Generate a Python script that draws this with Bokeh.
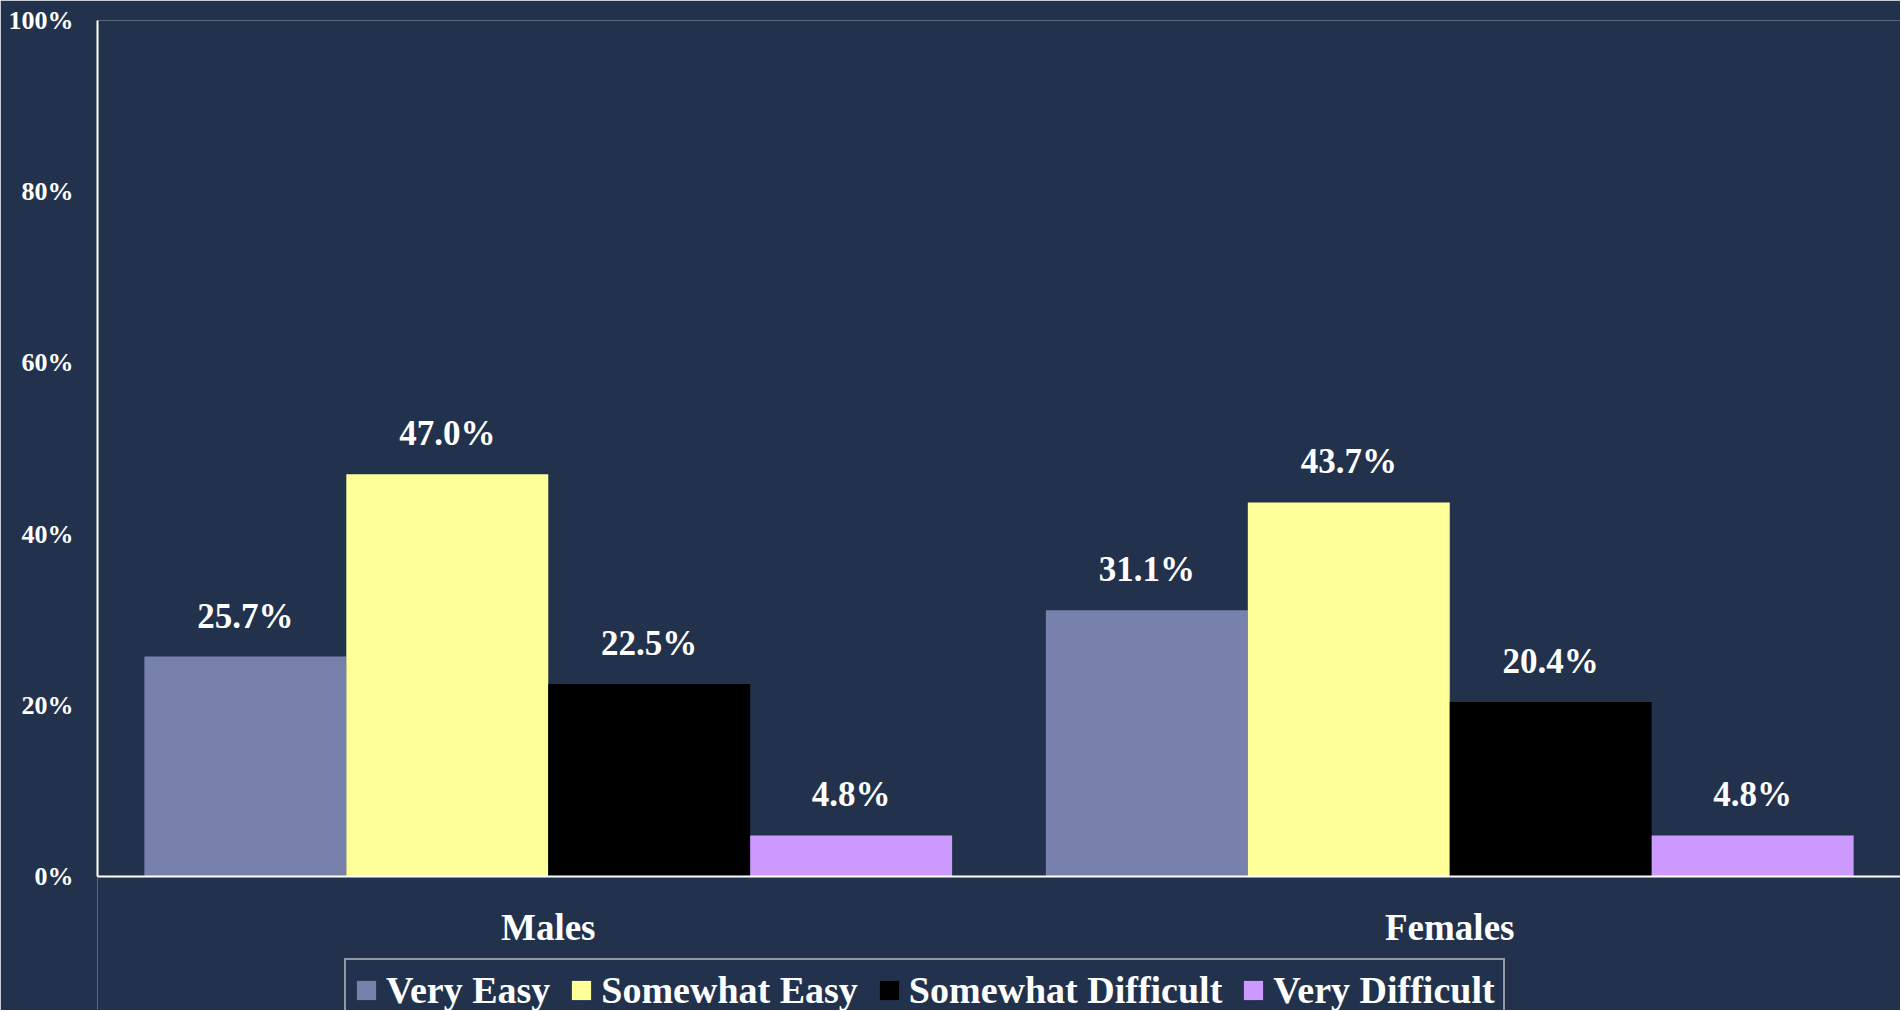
from bokeh.plotting import figure
from bokeh.models import ColumnDataSource, FactorRange, Range1d, LabelSet, Legend, LegendItem, FixedTicker, PrintfTickFormatter
from bokeh.transform import dodge
from bokeh.embed import file_html
from bokeh.resources import INLINE

categories = ["Males", "Females"]
series = ["Very Easy", "Somewhat Easy", "Somewhat Difficult", "Very Difficult"]
very_easy = [25.7, 31.1]
somewhat_easy = [47.0, 43.7]
somewhat_difficult = [22.5, 20.4]
very_difficult = [4.8, 4.8]
colors = ["#7880AC", "#FFFF99", "#000000", "#CC99FF"]
y_ticks = [0, 20, 40, 60, 80, 100]

BG = "#22324D"
FONT = "Liberation Serif"

p = figure(frame_width=1803, frame_height=990, x_range=FactorRange(*categories),
           y_range=Range1d(-15.65, 100),
           output_backend="svg", toolbar_location=None,
           background_fill_color=BG, border_fill_color=BG, outline_line_color=None,
           min_border_left=97, min_border_right=0, min_border_top=20, min_border_bottom=0)
p.grid.visible = False

values = [very_easy, somewhat_easy, somewhat_difficult, very_difficult]
offsets = [-0.336, -0.112, 0.112, 0.336]
items = []
for name, vals, col, off in zip(series, values, colors, offsets):
    src = ColumnDataSource(dict(cat=categories, v=vals, lab=["%.1f%%" % v for v in vals]))
    r = p.vbar(x=dodge("cat", off, range=p.x_range), top="v", width=0.224, source=src,
               fill_color=col, line_color=None)
    items.append(LegendItem(label=name, renderers=[r]))
    lbl = LabelSet(x=dodge("cat", off, range=p.x_range), y="v", text="lab", source=src,
                   text_align="center", text_baseline="alphabetic", y_offset=29,
                   text_color="white", text_font=FONT, text_font_style="bold",
                   text_font_size="35px")
    p.add_layout(lbl)

p.yaxis.ticker = FixedTicker(ticks=y_ticks)
p.yaxis.formatter = PrintfTickFormatter(format="%d%%")
p.yaxis.bounds = (0, 100)
p.yaxis.major_tick_line_color = None
p.yaxis.minor_tick_line_color = None
p.yaxis.major_tick_out = 0
p.yaxis.axis_line_color = "white"
p.yaxis.axis_line_width = 2
p.yaxis.major_label_text_color = "white"
p.yaxis.major_label_text_font = FONT
p.yaxis.major_label_text_font_style = "bold"
p.yaxis.major_label_text_font_size = "26px"
p.yaxis.major_label_standoff = 24

p.xaxis.fixed_location = 0
p.xaxis.major_tick_line_color = None
p.xaxis.minor_tick_line_color = None
p.xaxis.axis_line_color = "white"
p.xaxis.axis_line_width = 2
p.xaxis.major_label_text_color = "white"
p.xaxis.major_label_text_font = FONT
p.xaxis.major_label_text_font_style = "bold"
p.xaxis.major_label_text_font_size = "37px"
p.xaxis.major_label_standoff = 24

legend = Legend(items=items, orientation="horizontal", location=(247, -12),
                label_text_color="white", label_text_font=FONT, label_text_font_style="bold",
                label_text_font_size="38px", glyph_width=24, glyph_height=24,
                label_standoff=8, spacing=19, padding=8, margin=0,
                background_fill_color=BG, background_fill_alpha=1,
                border_line_color="white", border_line_width=2)
p.add_layout(legend, "center")

open("out.html", "w").write(file_html(p, INLINE))
